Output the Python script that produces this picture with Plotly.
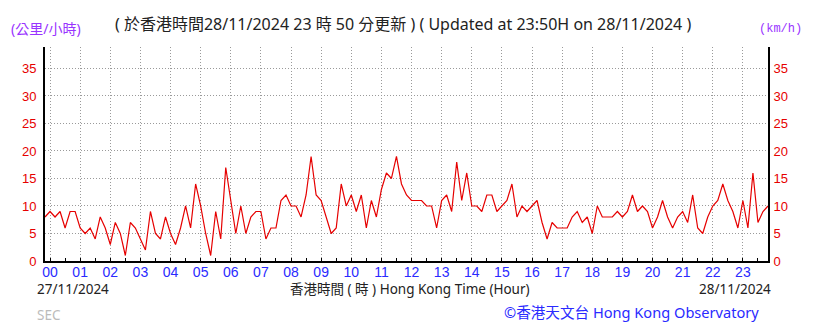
import plotly.graph_objects as go

# 10-minute mean wind speed (km/h), from 23:50 on 27/11 to 23:50 on 28/11
start_minute = -10
step_minutes = 10
speeds = [
    8,
    9, 8, 9, 6, 9, 9,        # 00
    6, 5, 6, 4, 8, 6,        # 01
    3, 7, 5, 1, 7, 6,        # 02
    4, 2, 9, 5, 4, 8,        # 03
    5, 3, 6, 10, 6, 14,      # 04
    10, 5, 1, 9, 4, 17,      # 05
    11, 5, 10, 5, 8, 9,      # 06
    9, 4, 6, 6, 11, 12,      # 07
    10, 10, 8, 12, 19, 12,   # 08
    11, 8, 5, 6, 14, 10,     # 09
    12, 9, 12, 6, 11, 8,     # 10
    13, 16, 15, 19, 14, 12,  # 11
    11, 11, 11, 10, 10, 6,   # 12
    11, 12, 9, 18, 11, 16,   # 13
    10, 10, 9, 12, 12, 9,    # 14
    10, 11, 14, 8, 10, 9,    # 15
    10, 11, 7, 4, 7, 6,      # 16
    6, 6, 8, 9, 7, 8,        # 17
    5, 10, 8, 8, 8, 9,       # 18
    8, 9, 12, 9, 10, 9,      # 19
    6, 8, 11, 8, 6, 8,       # 20
    9, 7, 12, 6, 5, 8,       # 21
    10, 11, 14, 11, 9, 6,    # 22
    11, 6, 16, 7, 9, 10,     # 23
]
hour_ticks = list(range(24))
hour_labels = [f"{h:02d}" for h in hour_ticks]
speed_ticks = [0, 5, 10, 15, 20, 25, 30, 35]

times = [(start_minute + i * step_minutes) / 60 for i in range(len(speeds))]

RED = "#e60000"
BLUE = "#2a2aff"
PURPLE = "#9933ff"
DARK = "#222222"
LATIN = "Noto Sans, Noto Sans CJK TC, sans-serif"

fig = go.Figure()
fig.add_trace(go.Scatter(x=times, y=speeds, mode="lines",
                         line=dict(color=RED, width=1.2), showlegend=False,
                         hoverinfo="skip"))
# invisible trace to activate the right axis
fig.add_trace(go.Scatter(x=[times[0]], y=[0], yaxis="y2", mode="markers",
                         marker=dict(opacity=0), showlegend=False, hoverinfo="skip"))

grid = dict(showgrid=True, gridcolor="#9a9a9a", gridwidth=1, griddash="1px,2px")

fig.update_layout(
    width=819, height=323,
    margin=dict(l=45, r=51, t=47, b=62),
    paper_bgcolor="white", plot_bgcolor="white",
    xaxis=dict(range=[start_minute / 60, times[-1]], tickmode="array",
               tickvals=hour_ticks, ticktext=hour_labels,
               tickfont=dict(family="Liberation Sans, Arial", size=14, color=BLUE),
               ticks="", showline=True, linecolor="black", linewidth=2,
               zeroline=False, ticklabelstandoff=-3,
               minor=dict(ticks="inside", ticklen=3, tickcolor="black",
                          dtick=0.5, tick0=0, showgrid=False),
               **grid),
    yaxis=dict(range=[0, 38.9], tickmode="array", tickvals=speed_ticks,
               tickfont=dict(family="Liberation Sans, Arial", size=13, color=RED),
               ticks="", showline=True, linecolor="black", linewidth=2,
               zeroline=False, ticklabelstandoff=4, **grid),
    yaxis2=dict(range=[0, 38.9], tickmode="array", tickvals=speed_ticks,
                overlaying="y", side="right",
                tickfont=dict(family="Liberation Sans, Arial", size=13, color=RED),
                ticks="", showline=True, linecolor="black", linewidth=2,
                showgrid=False, zeroline=False, ticklabelstandoff=1),
)

def note(text, x, y, color=DARK, size=14, xanchor="left", family=LATIN):
    fig.add_annotation(text=text, x=x, y=y, xref="paper", yref="paper",
                       xanchor=xanchor, yanchor="middle", showarrow=False,
                       font=dict(family=family, size=size, color=color))

W, H = 723.0, 214.0
def px(x):
    return (x - 45) / W
def py(y):
    return (261 - y) / H

note("( 於香港時間28/11/2024 23 時 50 分更新 ) ( Updated at 23:50H on 28/11/2024 )",
     px(403), py(24), size=16, xanchor="center")
note("(公里/小時)", px(9), py(28), color=PURPLE, size=14)
note("(km/h)", px(804), py(29), color=PURPLE, size=12, xanchor="right",
     family="Liberation Mono, DejaVu Sans Mono, monospace")
note("27/11/2024", px(35), py(289), size=13.5)
note("香港時間 ( 時 ) Hong Kong Time (Hour)", px(410), py(289), xanchor="center",
     size=13.5)
note("28/11/2024", px(773), py(289), xanchor="right", size=13.5)
note("SEC", px(35), py(315), color="#bbbbbb", size=13.5)
note("©香港天文台 Hong Kong Observatory", px(761), py(312), color=BLUE, size=14.6,
     xanchor="right")

fig.write_html("out.html")
